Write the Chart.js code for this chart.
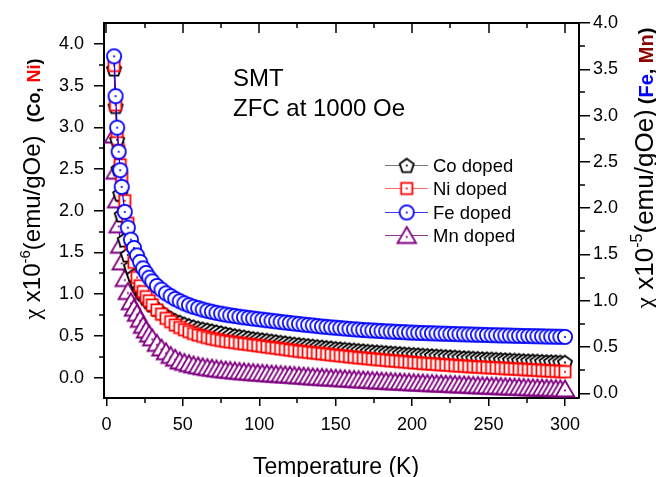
<!DOCTYPE html>
<html>
<head>
<meta charset="utf-8">
<script src="https://cdn.jsdelivr.net/npm/chart.js@4.4.1/dist/chart.umd.min.js"></script>
<style>
  html, body { margin: 0; padding: 0; background: #fff; }
  #wrap { width: 656px; height: 477px; }
</style>
</head>
<body>
<div id="wrap"><canvas id="chiChart" width="656" height="477"></canvas></div>
<script>
// ============================================================
// ZFC susceptibility of SMT doped samples (Co, Ni left axis / Fe, Mn right axis)
// ============================================================

// Temperature points (K), shared by all samples
const temps = [
  5, 6, 7, 8, 9, 10,
  12, 14, 16, 18, 20, 22, 24, 26, 28, 30,
  33, 36, 39, 42, 45, 48, 51, 54, 57, 60,
  63, 66, 69, 72, 75, 78, 81, 84, 87, 90,
  93, 96, 99, 102, 105, 108, 111, 114, 117, 120,
  123, 126, 129, 132, 135, 138, 141, 144, 147, 150,
  153, 156, 159, 162, 165, 168, 171, 174, 177, 180,
  183, 186, 189, 192, 195, 198, 201, 204, 207, 210,
  213, 216, 219, 222, 225, 228, 231, 234, 237, 240,
  243, 246, 249, 252, 255, 258, 261, 264, 267, 270,
  273, 276, 279, 282, 285, 288, 291, 294, 297, 300
];

// chi x10^-6 emu/gOe (left axis)
const coDoped = [
  3.70, 3.25, 2.85, 2.50, 2.20, 1.95,
  1.65, 1.47, 1.33, 1.22, 1.13, 1.06, 1.00, 0.95, 0.91, 0.87,
  0.82, 0.78, 0.74, 0.71, 0.68, 0.66, 0.638, 0.62, 0.605, 0.59,
  0.579, 0.568, 0.556, 0.545, 0.534, 0.522, 0.511, 0.50, 0.492, 0.483,
  0.473, 0.465, 0.457, 0.45, 0.443, 0.435, 0.428, 0.42, 0.413, 0.405,
  0.398, 0.392, 0.386, 0.38, 0.374, 0.368, 0.362, 0.357, 0.352, 0.346,
  0.341, 0.336, 0.331, 0.326, 0.322, 0.317, 0.312, 0.308, 0.304, 0.30,
  0.296, 0.292, 0.288, 0.284, 0.28, 0.276, 0.273, 0.269, 0.265, 0.262,
  0.258, 0.255, 0.251, 0.248, 0.245, 0.242, 0.238, 0.235, 0.232, 0.229,
  0.226, 0.223, 0.22, 0.218, 0.215, 0.212, 0.21, 0.207, 0.205, 0.202,
  0.2, 0.197, 0.195, 0.193, 0.19, 0.188, 0.186, 0.184, 0.182, 0.18
];
const niDoped = [
  3.74, 3.27, 2.95, 2.72, 2.55, 2.40,
  2.12, 1.85, 1.60, 1.38, 1.20, 1.10, 1.03, 0.97, 0.92, 0.87,
  0.81, 0.76, 0.71, 0.67, 0.63, 0.60, 0.573, 0.55, 0.528, 0.51,
  0.495, 0.48, 0.466, 0.455, 0.444, 0.435, 0.428, 0.42, 0.412, 0.405,
  0.398, 0.39, 0.383, 0.375, 0.368, 0.36, 0.353, 0.345, 0.338, 0.33,
  0.323, 0.316, 0.31, 0.304, 0.298, 0.292, 0.286, 0.28, 0.274, 0.268,
  0.262, 0.256, 0.25, 0.244, 0.238, 0.233, 0.228, 0.222, 0.217, 0.212,
  0.207, 0.202, 0.198, 0.193, 0.189, 0.184, 0.179, 0.175, 0.17, 0.167,
  0.163, 0.159, 0.155, 0.152, 0.148, 0.144, 0.14, 0.137, 0.133, 0.13,
  0.127, 0.124, 0.121, 0.118, 0.115, 0.112, 0.109, 0.106, 0.103, 0.1,
  0.097, 0.094, 0.091, 0.088, 0.085, 0.082, 0.079, 0.076, 0.073, 0.07
];

// chi x10^-5 emu/gOe (right axis)
const feDoped = [
  3.64, 3.21, 2.87, 2.61, 2.41, 2.23,
  1.96, 1.79, 1.66, 1.57, 1.49, 1.42, 1.35, 1.30, 1.25, 1.21,
  1.16, 1.12, 1.08, 1.05, 1.02, 0.995, 0.972, 0.952, 0.935, 0.92,
  0.905, 0.892, 0.881, 0.870, 0.860, 0.851, 0.843, 0.836, 0.828, 0.821,
  0.815, 0.808, 0.802, 0.796, 0.790, 0.784, 0.778, 0.772, 0.766, 0.760,
  0.754, 0.749, 0.743, 0.738, 0.733, 0.727, 0.722, 0.718, 0.713, 0.709,
  0.705, 0.700, 0.696, 0.692, 0.689, 0.685, 0.682, 0.679, 0.676, 0.673,
  0.670, 0.668, 0.665, 0.663, 0.661, 0.658, 0.656, 0.654, 0.652, 0.650,
  0.649, 0.647, 0.645, 0.644, 0.642, 0.641, 0.639, 0.638, 0.636, 0.635,
  0.633, 0.632, 0.631, 0.629, 0.628, 0.626, 0.625, 0.624, 0.622, 0.621,
  0.620, 0.619, 0.618, 0.617, 0.616, 0.614, 0.613, 0.612, 0.611, 0.610
];
const mnDoped = [
  2.79, 2.40, 2.09, 1.82, 1.60, 1.42,
  1.24, 1.10, 0.99, 0.92, 0.865, 0.80, 0.735, 0.685, 0.64, 0.60,
  0.54, 0.49, 0.45, 0.41, 0.38, 0.35, 0.335, 0.321, 0.308, 0.297,
  0.288, 0.279, 0.272, 0.265, 0.259, 0.253, 0.248, 0.243, 0.238, 0.234,
  0.23, 0.226, 0.222, 0.218, 0.214, 0.21, 0.207, 0.204, 0.201, 0.198,
  0.194, 0.19, 0.187, 0.183, 0.179, 0.176, 0.173, 0.17, 0.167, 0.164,
  0.161, 0.158, 0.155, 0.152, 0.149, 0.146, 0.143, 0.14, 0.137, 0.134,
  0.131, 0.129, 0.126, 0.124, 0.121, 0.119, 0.116, 0.114, 0.112, 0.109,
  0.107, 0.105, 0.103, 0.101, 0.099, 0.096, 0.094, 0.092, 0.09, 0.087,
  0.085, 0.083, 0.081, 0.078, 0.077, 0.075, 0.073, 0.071, 0.069, 0.067,
  0.065, 0.063, 0.061, 0.06, 0.058, 0.056, 0.054, 0.052, 0.05, 0.048
];

// axis ticks
const xTicks = [0, 50, 100, 150, 200, 250, 300];
const leftTicks = [0, 0.5, 1.0, 1.5, 2.0, 2.5, 3.0, 3.5, 4.0];
const rightTicks = [0, 0.5, 1.0, 1.5, 2.0, 2.5, 3.0, 3.5, 4.0];

const SANS = '"Liberation Sans", Arial, sans-serif';

// hollow (white filled) marker with a small centre dot
function makeMarker(shape, color) {
  const c = document.createElement("canvas");
  c.width = 26; c.height = 26;
  const g = c.getContext("2d");
  g.translate(13, 13);
  g.beginPath();
  let dotY = 0;
  if (shape === "circle") {
    g.arc(0, 0, 7.1, 0, Math.PI * 2);
  } else if (shape === "square") {
    g.rect(-5.6, -5.6, 11.2, 11.2);
  } else if (shape === "triangle") {
    g.moveTo(0, -8.5); g.lineTo(9.3, 7.5); g.lineTo(-9.3, 7.5); g.closePath();
    dotY = 1.5;
  } else {
    for (let k = 0; k < 5; k++) {
      const a = -Math.PI / 2 + k * 2 * Math.PI / 5;
      const px = 7.4 * Math.cos(a), py = 7.4 * Math.sin(a) + 0.6;
      k === 0 ? g.moveTo(px, py) : g.lineTo(px, py);
    }
    g.closePath();
  }
  g.fillStyle = "#fff";
  g.fill();
  g.lineWidth = 1.8;
  g.strokeStyle = color;
  g.stroke();
  g.beginPath();
  g.arc(0, dotY, 1.1, 0, Math.PI * 2);
  g.fillStyle = color;
  g.fill();
  return c;
}

function pts(vals) {
  return temps.map((t, i) => ({ x: t, y: vals[i] }));
}

const series = [
  { label: "Co doped", vals: coDoped, color: "#000000", legendLine: "#777777", shape: "pentagon", axis: "y",  order: 2 },
  { label: "Ni doped", vals: niDoped, color: "#ff0000", legendLine: "#ff6a6a", shape: "square",   axis: "y",  order: 1 },
  { label: "Fe doped", vals: feDoped, color: "#0000ff", legendLine: "#3a3aff", shape: "circle",   axis: "y2", order: 0 },
  { label: "Mn doped", vals: mnDoped, color: "#800080", legendLine: "#8c3a8c", shape: "triangle", axis: "y2", order: 3 }
];

// ---- extra decoration: frame, minor ticks, titles, legend
const decor = {
  id: "decor",
  afterDraw(chart) {
    const ctx = chart.ctx;
    const a = chart.chartArea;
    const sx = chart.scales.x, sl = chart.scales.y, sr = chart.scales.y2;
    ctx.save();
    ctx.strokeStyle = "#000";
    ctx.fillStyle = "#000";

    // top frame line
    ctx.lineWidth = 2;
    ctx.beginPath();
    ctx.moveTo(a.left - 1, a.top);
    ctx.lineTo(a.right + 1, a.top);
    ctx.stroke();

    ctx.lineWidth = 1.5;
    const line = (x1, y1, x2, y2) => { ctx.beginPath(); ctx.moveTo(x1, y1); ctx.lineTo(x2, y2); ctx.stroke(); };

    // top ticks (inward), major + minor; bottom minor ticks
    xTicks.forEach(v => {
      const px = Math.round(sx.getPixelForValue(v));
      line(px, a.top, px, a.top + 10);
      const m = v + 25;
      if (m < sx.max) {
        const pm = Math.round(sx.getPixelForValue(m));
        line(pm, a.top, pm, a.top + 5);
        line(pm, a.bottom, pm, a.bottom + 5);
      }
    });
    // left / right minor ticks
    for (let i = 0; i < leftTicks.length - 1; i++) {
      const m = (leftTicks[i] + leftTicks[i + 1]) / 2;
      const py = Math.round(sl.getPixelForValue(m));
      line(a.left, py, a.left - 5, py);
    }
    for (let i = 0; i < rightTicks.length - 1; i++) {
      const m = (rightTicks[i] + rightTicks[i + 1]) / 2;
      const py = Math.round(sr.getPixelForValue(m));
      line(a.right, py, a.right + 6, py);
    }

    // annotation text
    ctx.font = "24px " + SANS;
    ctx.textAlign = "left";
    ctx.textBaseline = "alphabetic";
    ctx.fillText("SMT", 233, 86);
    ctx.fillText("ZFC at 1000 Oe", 233, 116);

    // x title
    ctx.font = "23px " + SANS;
    ctx.textAlign = "center";
    ctx.fillText("Temperature (K)", 336, 474);

    // rotated rich titles
    function rich(segs, bx, cy) {
      ctx.save();
      ctx.textAlign = "left";
      ctx.textBaseline = "alphabetic";
      let total = 0;
      segs.forEach(s => { ctx.font = s.f; s.w = ctx.measureText(s.t).width + (s.gap || 0); total += s.w; });
      ctx.translate(bx, cy);
      ctx.rotate(-Math.PI / 2);
      let x = -total / 2;
      segs.forEach(s => {
        ctx.font = s.f;
        ctx.fillStyle = s.c || "#000";
        ctx.fillText(s.t, x + (s.gap || 0), s.dy || 0);
        x += s.w;
      });
      ctx.restore();
    }
    const serif = n => n + "px \"Liberation Serif\", serif";
    const sans = n => n + "px " + SANS;
    const bold = n => "bold " + n + "px " + SANS;
    rich([
      { t: "\u03c7", f: serif(24) },
      { t: " x10", f: sans(24) },
      { t: "-6", f: sans(15), dy: -10 },
      { t: "(emu/gOe)", f: sans(24) },
      { t: "(Co, ", f: bold(18), gap: 13 },
      { t: "Ni", f: bold(18), c: "#ff0000" },
      { t: ")", f: bold(18) }
    ], 40, 189);
    rich([
      { t: "\u03c7", f: serif(26) },
      { t: " x10", f: sans(26) },
      { t: "-5", f: sans(16), dy: -11 },
      { t: "(emu/gOe)", f: sans(26) },
      { t: "(", f: bold(20), gap: 5 },
      { t: "Fe", f: bold(20), c: "#0000ff" },
      { t: ", ", f: bold(20) },
      { t: "Mn", f: bold(20), c: "#8b0000" },
      { t: ")", f: bold(20) }
    ], 653, 168);

    // legend
    ctx.font = "18.5px " + SANS;
    ctx.textAlign = "left";
    ctx.textBaseline = "middle";
    chart.data.datasets.forEach((ds, i) => {
      const y = Math.round(165 + i * 23.4) + 0.5;
      ctx.strokeStyle = series[i].legendLine;
      ctx.lineWidth = 1;
      line(385, y, 428, y);
      const img = ds.pointStyle;
      ctx.drawImage(img, 406.7 - img.width / 2, y - img.height / 2);
      ctx.fillStyle = "#000";
      ctx.fillText(ds.label, 433, y + 1);
    });
    ctx.restore();
  }
};

Chart.defaults.color = "#000";
Chart.defaults.font.family = SANS;

const tickGrid = len => ({
  display: true, drawOnChartArea: false, drawTicks: true,
  tickLength: len, color: "#000", lineWidth: 1.5
});

new Chart(document.getElementById("chiChart").getContext("2d"), {
  type: "line",
  data: {
    datasets: series.map(s => ({
      label: s.label,
      data: pts(s.vals),
      yAxisID: s.axis,
      order: s.order,
      borderColor: s.color,
      borderWidth: 1.2,
      pointStyle: makeMarker(s.shape, s.color),
      pointRadius: 7,
      fill: false,
      tension: 0
    }))
  },
  options: {
    responsive: false,
    animation: false,
    layout: { padding: { top: 23, left: 0, right: 0, bottom: 0 } },
    plugins: { legend: { display: false }, tooltip: { enabled: false } },
    scales: {
      x: {
        type: "linear", position: "bottom", min: -1.6, max: 309.2,
        afterBuildTicks: s => { s.ticks = xTicks.map(v => ({ value: v })); },
        afterFit: s => { s.height = 79; },
        ticks: { font: { size: 18 }, padding: 8, maxRotation: 0, callback: v => String(v) },
        grid: tickGrid(8),
        border: { display: true, color: "#000", width: 2 }
      },
      y: {
        type: "linear", position: "left", min: -0.245, max: 4.25,
        afterBuildTicks: s => { s.ticks = leftTicks.map(v => ({ value: v })); },
        afterFit: s => { s.width = 104; },
        ticks: { font: { size: 18 }, padding: 10, callback: v => v.toFixed(1) },
        grid: tickGrid(10),
        border: { display: true, color: "#000", width: 2 }
      },
      y2: {
        type: "linear", position: "right", min: -0.05, max: 4.0,
        afterBuildTicks: s => { s.ticks = rightTicks.map(v => ({ value: v })); },
        afterFit: s => { s.width = 77; },
        ticks: { font: { size: 18 }, padding: 3, callback: v => v.toFixed(1) },
        grid: tickGrid(11),
        border: { display: true, color: "#000", width: 2 }
      }
    }
  },
  plugins: [decor]
});
</script>
</body>
</html>
